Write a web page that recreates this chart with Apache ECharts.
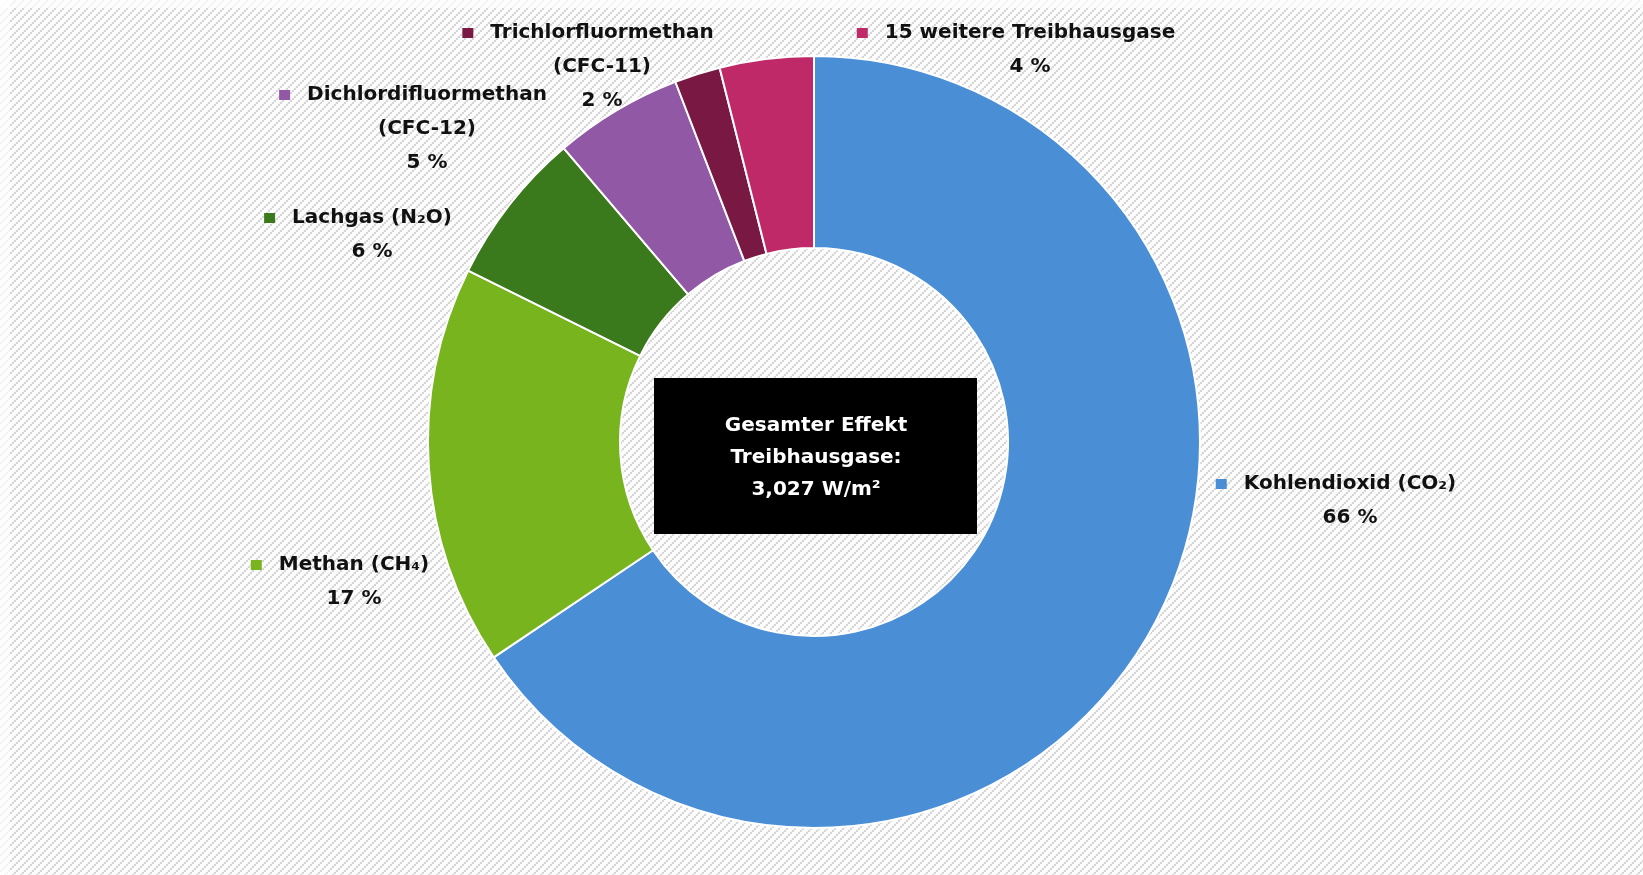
<!DOCTYPE html>
<html>
<head>
<meta charset="utf-8">
<script src="https://cdn.jsdelivr.net/npm/echarts@6/dist/echarts.min.js"></script>
<style>
  html, body { margin: 0; padding: 0; background: #fff; }
  #chart { width: 1643px; height: 875px; }
</style>
</head>
<body>
<div id="chart"></div>
<script>
// Strahlungsantrieb der Treibhausgase (W/m²)
var gases = ['Kohlendioxid (CO₂)', 'Methan (CH₄)', 'Lachgas (N₂O)', 'Dichlordifluormethan\n(CFC-12)', 'Trichlorfluormethan\n(CFC-11)', '15 weitere Treibhausgase'];
var forcing = [1.985, 0.507, 0.195, 0.163, 0.058, 0.119];
var colors = ['#4a8fd6', '#78b41e', '#3a7a1c', '#9158a6', '#7a1844', '#bf2968'];
var centerText = ['Gesamter Effekt', 'Treibhausgase:', '3,027 W/m²'];

// label spots (text block center x, top y) placed like the original layout
var labelSpots = [[1350, 467], [354, 548], [372, 201], [427, 78], [602, 16], [1030, 16]];

var chart = echarts.init(document.getElementById('chart'));

// diagonal hatch background, coarse like the original
var tile = document.createElement('canvas');
tile.width = 8;
tile.height = 8;
var tctx = tile.getContext('2d');
tctx.fillStyle = '#fcfcfc';
tctx.fillRect(0, 0, 8, 8);
for (var i = 0; i < 4; i++) {
  tctx.fillStyle = '#d6d6d6';
  tctx.fillRect(2 * i, 6 - 2 * i, 2, 2);
  tctx.fillStyle = '#ececec';
  tctx.fillRect(2 * i + 1, 6 - 2 * i - 1 < 0 ? 7 : 6 - 2 * i - 1, 1, 1);
}

var data = gases.map(function (g, i) {
  return {
    name: g,
    value: forcing[i],
    itemStyle: { color: colors[i] },
    label: { rich: { m: { backgroundColor: colors[i] } } }
  };
});

var option = {
  backgroundColor: { image: tile, repeat: 'repeat' },
  animation: false,
  graphic: [
    { type: 'rect', left: 0, top: 0, shape: { width: 1643, height: 8 }, style: { fill: 'rgba(255,255,255,0.7)' }, silent: true },
    { type: 'rect', left: 0, top: 0, shape: { width: 10, height: 875 }, style: { fill: 'rgba(255,255,255,0.7)' }, silent: true },
    {
      type: 'group',
      left: 654,
      top: 378,
      children: [
        { type: 'rect', shape: { x: 0, y: 0, width: 323, height: 156 }, style: { fill: '#000' } },
        {
          type: 'text',
          x: 162,
          y: 80,
          style: {
            text: centerText.join('\n'),
            fill: '#fff',
            font: 'bold 20px "DejaVu Sans"',
            lineHeight: 32,
            align: 'center',
            verticalAlign: 'middle'
          }
        }
      ]
    }
  ],
  series: [{
    type: 'pie',
    center: [814, 442],
    radius: [194, 386],
    startAngle: 90,
    clockwise: true,
    avoidLabelOverlap: false,
    itemStyle: { borderColor: '#fff', borderWidth: 2 },
    label: {
      show: true,
      position: 'outside',
      formatter: function (p) {
        var lines = p.name.split('\n');
        var s = '{m|}{g|}{n|' + lines[0] + '}{s|}';
        for (var k = 1; k < lines.length; k++) s += '\n{n|' + lines[k] + '}';
        s += '\n{n|' + Math.round(p.percent) + ' %}';
        return s;
      },
      align: 'center',
      rich: {
        m: { width: 11, height: 10 },
        g: { width: 17 },
        s: { width: 28 },
        n: { fontFamily: 'DejaVu Sans', fontWeight: 'bold', fontSize: 20, color: '#111', lineHeight: 34 }
      }
    },
    labelLine: { show: false },
    labelLayout: function (params) {
      var p = labelSpots[params.dataIndex];
      return { x: p[0], y: p[1], align: 'center', verticalAlign: 'top' };
    },
    data: data
  }]
};

chart.setOption(option);
</script>
</body>
</html>
